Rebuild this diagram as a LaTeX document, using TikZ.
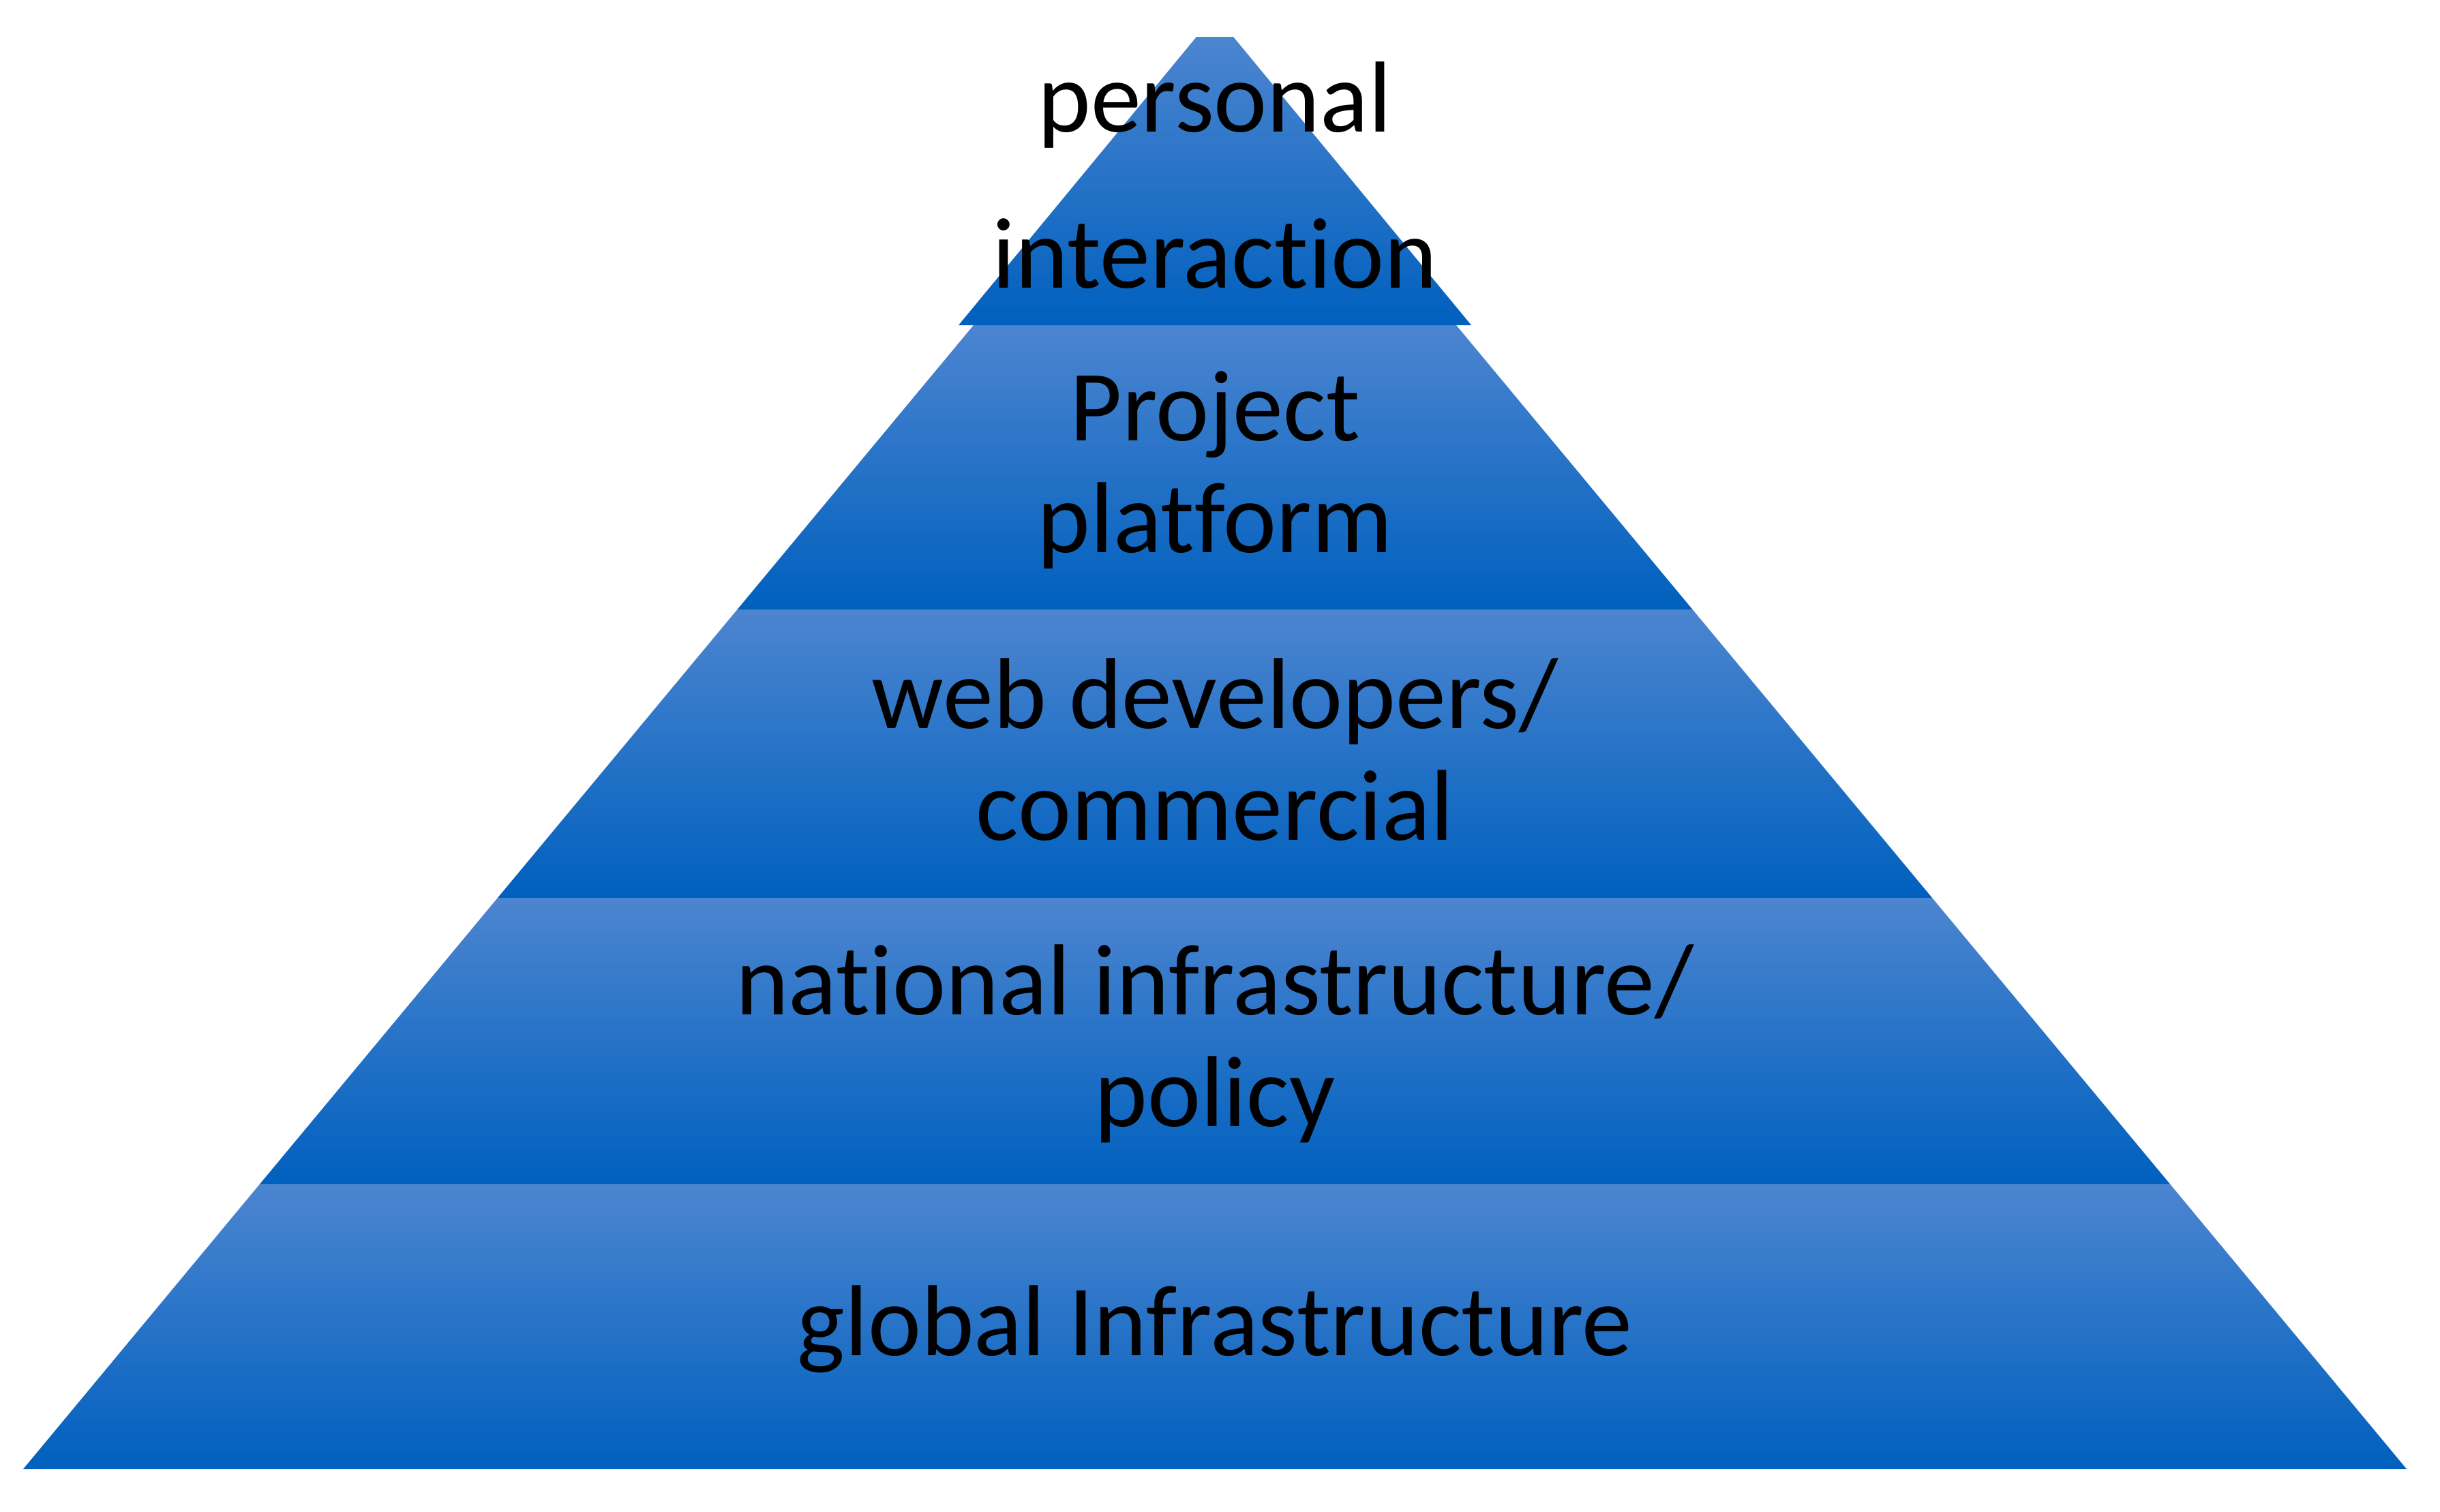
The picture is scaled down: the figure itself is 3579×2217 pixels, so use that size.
\documentclass[tikz,border=0pt]{standalone}
\usepackage{fontspec}
\setmainfont{Carlito}[Ligatures={NoCommon,NoContextual}]
\begin{document}
\begin{tikzpicture}[x=0.2pt,y=-0.2pt]
\definecolor{lt}{RGB}{76,133,208}
\definecolor{md}{RGB}{0,112,204}
\definecolor{dk}{RGB}{0,96,190}
\tikzset{
  layer/.style={top color=lt,middle color=md,bottom color=dk,draw=none},
  lbl/.style={font=\fontsize{29.6}{32.8}\selectfont,text=black,align=center,inner sep=0pt,anchor=base}
}
\useasboundingbox (0,0) rectangle (3579,2217);
% layers (bottom to top)
\path[layer] (381,1737) -- (3183,1737) -- (3530,2155) -- (34,2155) -- cycle;
\path[layer] (730,1317) -- (2834,1317) -- (3183,1737) -- (381,1737) -- cycle;
\path[layer] (1081.5,894) -- (2482.5,894) -- (2834,1317) -- (730,1317) -- cycle;
\path[layer] (1428,477) -- (2136,477) -- (2482.5,894) -- (1081.5,894) -- cycle;
\path[layer] (1755,54) -- (1809,54) -- (2158,477) -- (1406,477) -- cycle;
% labels
\node[lbl] (t1) at (1782,422) {personal\\[13pt]interaction};
\node[lbl] (t2) at (1782,810) {Project\\platform};
\node[lbl] (t3) at (1782,1232) {web developers/\\commercial};
\node[lbl] (t4) at (1782,1652) {national infrastructure/\\policy};
\node[lbl] (t5) at (1782,1988) {global Infrastructure};
\end{tikzpicture}
\end{document}
